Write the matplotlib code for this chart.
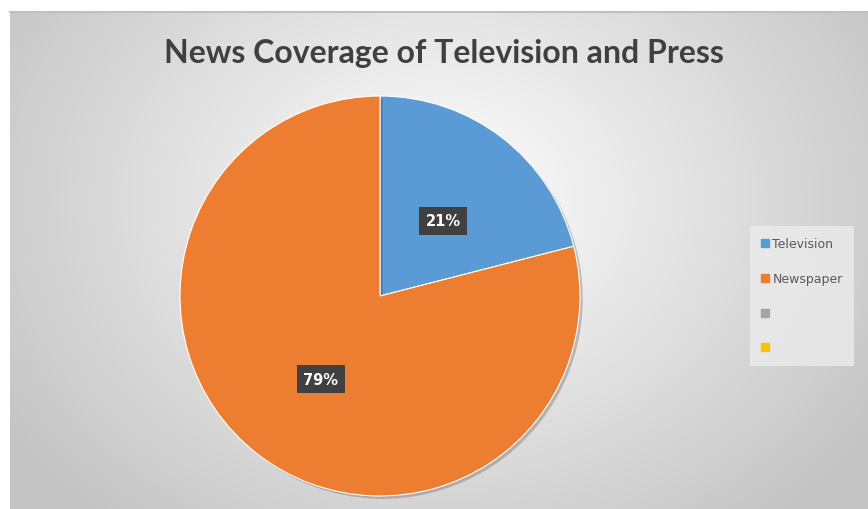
import matplotlib.pyplot as plt
import matplotlib.patches as mpatches
import matplotlib.patheffects as pe
import numpy as np

title = "News Coverage of Television and Press"
categories = ["Television", "Newspaper", "", ""]
shares = [21, 79, 0, 0]
colors = ["#5B9BD5", "#ED7D31", "#A5A5A5", "#FFC000"]

W, H = 868, 510
fig = plt.figure(figsize=(W / 100, H / 100), dpi=100)
fig.patch.set_facecolor("white")

# radial gradient background of the chart area
bg = fig.add_axes([10 / W, 0, 1 - 10 / W, 1 - 13 / H])
bg.set_axis_off()
yy, xx = np.mgrid[0:500, 0:860]
d = np.sqrt(((xx - 430) / 520.0) ** 2 + ((yy - 190) / 420.0) ** 2)
d = np.clip(d, 0, 1)
shade = 1.0 - 0.23 * d
img = np.dstack([shade, shade, shade])
bg.imshow(img, aspect="auto", extent=[0, 1, 0, 1], origin="upper")
bg.set_xlim(0, 1)
bg.set_ylim(0, 1)
# thin gray top line
bg.plot([0, 1], [1, 1], color="#c0c0c0", lw=1.5, transform=bg.transAxes, clip_on=False)

fig.text(444 / W, 1 - 54 / H, title, ha="center", va="center",
         fontsize=23, fontweight="bold", color="#404040", family="Lato")

# pie
ax = fig.add_axes([180 / W, 13 / H, 400 / W, 400 / H])
vals = [v for v in shares if v > 0]
cols = [c for v, c in zip(shares, colors) if v > 0]
wedges, texts, autotexts = ax.pie(vals, colors=cols, startangle=90, counterclock=False,
                                  autopct="%d%%", pctdistance=0.5,
                                  wedgeprops=dict(linewidth=0.8, edgecolor="white"))
for w in wedges:
    w.set_path_effects([pe.SimplePatchShadow(offset=(2, -2), alpha=0.25), pe.Normal()])
for t in autotexts:
    t.set_color("white")
    t.set_fontweight("bold")
    t.set_fontsize(10.5)
    t.set_family("DejaVu Sans")
    t.set_bbox(dict(boxstyle="square,pad=0.45", facecolor="#404040", edgecolor="none"))
    x, y = t.get_position()
    t.set_position((x + 0.01, y - 0.02))
ax.set_xlim(-1, 1)
ax.set_ylim(-1, 1)
ax.set_aspect("equal")

# legend
handles = [mpatches.Patch(color=c) for c in colors]
leg = fig.legend(handles, categories, loc="center left",
                 bbox_to_anchor=(750 / W, 1 - 297 / H), frameon=True,
                 fontsize=9, handlelength=0.6, handleheight=0.6, handletextpad=0.3,
                 labelspacing=1.75, borderpad=0.9, borderaxespad=0)
leg.get_frame().set_facecolor("#ececec")
leg.get_frame().set_edgecolor("none")
leg.get_frame().set_alpha(0.8)
leg.get_frame().set_boxstyle("square", pad=0)
for t in leg.get_texts():
    t.set_color("#595959")

fig.savefig("out.png", dpi=100)
